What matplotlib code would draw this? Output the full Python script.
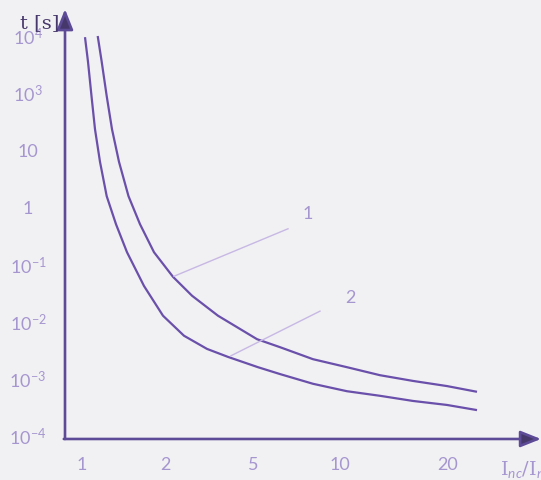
import matplotlib
matplotlib.use("Agg")
import matplotlib.pyplot as plt

# ---- data (chart units: x = position along the current axis, y = decade level index) ----
ytick_labels = ["10$^{-4}$", "10$^{-3}$", "10$^{-2}$", "10$^{-1}$", "1", "10", "10$^{3}$", "10$^{4}$"]
ytick_pos = [0, 1, 2, 3, 4, 5, 6, 7]
xtick_labels = ["1", "2", "5", "10", "20"]
xtick_pos = [0.17, 1.00, 1.88, 2.75, 3.83]

curve1_x = [0.327, 0.367, 0.417, 0.47, 0.54, 0.635, 0.75, 0.89, 1.08, 1.27, 1.53,
            1.92, 2.15, 2.48, 2.82, 3.15, 3.48, 3.82, 4.12]
curve1_y = [7.01, 6.56, 5.96, 5.38, 4.81, 4.21, 3.72, 3.23, 2.80, 2.47, 2.12,
            1.71, 1.57, 1.36, 1.22, 1.08, 0.98, 0.89, 0.79]
curve2_x = [0.20, 0.23, 0.265, 0.30, 0.35, 0.417, 0.51, 0.62, 0.79, 0.98, 1.19,
            1.42, 1.63, 1.93, 2.15, 2.48, 2.82, 3.15, 3.48, 3.82, 4.12]
curve2_y = [6.99, 6.56, 5.96, 5.38, 4.81, 4.21, 3.72, 3.23, 2.64, 2.12, 1.77,
            1.54, 1.40, 1.22, 1.10, 0.93, 0.80, 0.72, 0.63, 0.56, 0.47]

leader1_x = [1.09, 2.23]
leader1_y = [2.81, 3.64]
leader2_x = [1.66, 2.55]
leader2_y = [1.42, 2.20]
label1 = ("1", 2.43, 3.92)
label2 = ("2", 2.85, 2.45)

# ---- style ----
BG = "#f1f1f3"
AXIS = "#5e4b98"
HEAD = "#47386b"
CURVE = "#6a50aa"
TICK = "#a696d0"
LEAD = "#c7b8e4"

plt.rcParams["mathtext.fontset"] = "custom"
plt.rcParams["mathtext.rm"] = "Lato"
plt.rcParams["mathtext.it"] = "Lato:italic"
plt.rcParams["mathtext.bf"] = "Lato:bold"

fig = plt.figure(figsize=(5.41, 4.81), dpi=100, facecolor=BG)
ax = fig.add_axes([0, 0, 1, 1])
ax.set_facecolor(BG)
ax.set_xlim(-0.65, 4.76)
ax.set_ylim(-0.752, 7.657)
ax.axis("off")

y0 = -0.035
# axes with arrows
ax.annotate("", xy=(0, 7.48), xytext=(0, y0),
            arrowprops=dict(arrowstyle="-|>,head_length=1.25,head_width=0.5",
                            color=AXIS, lw=1.9, mutation_scale=10,
                            shrinkA=0, shrinkB=0, fc=HEAD, ec=AXIS))
ax.annotate("", xy=(4.76, y0), xytext=(-0.012, y0),
            arrowprops=dict(arrowstyle="-|>,head_length=1.25,head_width=0.5",
                            color=AXIS, lw=1.9, mutation_scale=10,
                            shrinkA=0, shrinkB=0, fc=HEAD, ec=AXIS))

# curves
for cx, cy in ((curve1_x, curve1_y), (curve2_x, curve2_y)):
    ax.plot(cx, cy, color=CURVE, lw=1.6, solid_capstyle="butt", solid_joinstyle="round")

# leader lines and labels
ax.plot(leader1_x, leader1_y, color=LEAD, lw=1.0)
ax.plot(leader2_x, leader2_y, color=LEAD, lw=1.0)
for txt, x, y in (label1, label2):
    ax.text(x, y, txt, color=TICK, fontsize=13, family="Lato", ha="center", va="center")

# tick labels
for p, lab in zip(ytick_pos, ytick_labels):
    ax.text(-0.37, p, lab, color=TICK, fontsize=13, family="Lato", ha="center", va="center")
for p, lab in zip(xtick_pos, xtick_labels):
    ax.text(p, -0.47, lab, color=TICK, fontsize=13, family="Lato", ha="center", va="center")

# axis titles
ax.text(-0.25, 7.25, "t [s]", color=HEAD, fontsize=14, family="DejaVu Serif",
        ha="center", va="center", zorder=5)
ax.text(4.35, -0.55, r"I$_{nc}$/I$_{n}$", color=TICK, fontsize=14,
        family="DejaVu Serif", ha="left", va="center")

fig.savefig("out.png", dpi=100, facecolor=BG)
